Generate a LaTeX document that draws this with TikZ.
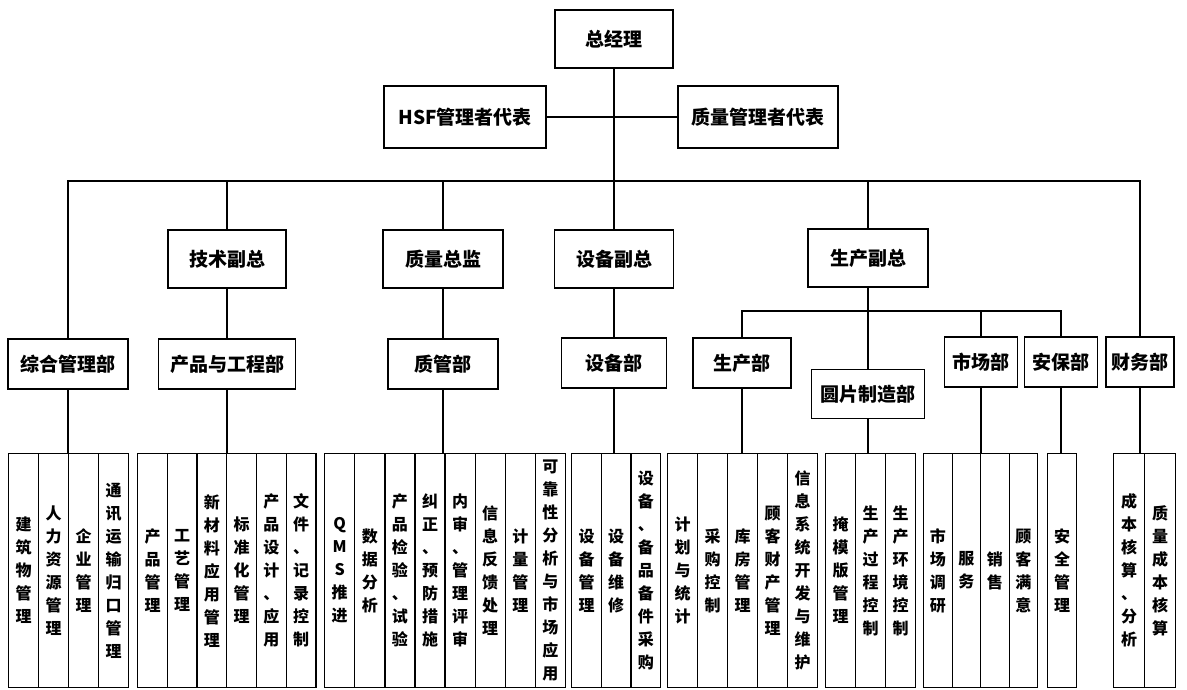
\documentclass[tikz,border=0pt]{standalone}
\usepackage{fontspec}
\setmainfont{Noto Sans CJK SC}
\begin{document}
\begin{tikzpicture}[x=1pt,y=-1pt,line width=1.3pt,
  box/.style={draw,inner sep=0pt,font=\fontsize{19}{22}\selectfont\bfseries},
  cell/.style={draw,anchor=north west,inner sep=0pt,minimum height=234pt,align=center,font=\fontsize{16}{23}\selectfont\bfseries}]
\path[fill=white,use as bounding box] (0,0) rectangle (1187,689);
% top
\node[box,minimum width=118pt,minimum height=58pt] (gm) at (614,39) {总经理};
\node[box,minimum width=162pt,minimum height=62pt] (hsf) at (465,117) {HSF管理者代表};
\node[box,minimum width=160pt,minimum height=62pt] (qrep) at (758,117) {质量管理者代表};
% level 2
\node[box,minimum width=118pt,minimum height=58pt] (jsfz) at (227,259) {技术副总};
\node[box,minimum width=120pt,minimum height=58pt] (zlzj) at (443,259) {质量总监};
\node[box,minimum width=119pt,minimum height=58pt] (sbfz) at (614,259) {设备副总};
\node[box,minimum width=120pt,minimum height=58pt] (scfz) at (868,258) {生产副总};
% level 3
\node[box,minimum width=120pt,minimum height=50pt] (zh) at (68,364) {综合管理部};
\node[box,minimum width=137pt,minimum height=50pt] (cp) at (227,364) {产品与工程部};
\node[box,minimum width=110pt,minimum height=50pt] (zg) at (443,364) {质管部};
\node[box,minimum width=105pt,minimum height=50pt] (sb) at (614,363) {设备部};
\node[box,minimum width=98pt,minimum height=50pt] (sc) at (742,363) {生产部};
\node[box,minimum width=113pt,minimum height=49pt] (yp) at (868,394) {圆片制造部};
\node[box,minimum width=73pt,minimum height=50pt] (sch) at (981,362) {市场部};
\node[box,minimum width=73pt,minimum height=50pt] (ab) at (1061,362) {安保部};
\node[box,minimum width=68pt,minimum height=50pt] (cw) at (1140,362) {财务部};
% connectors top
\coordinate (bus) at (0,181);
\coordinate (sub) at (0,311);
\draw (gm.south) -- (sbfz.north);
\draw (hsf.east) -- (qrep.west);
\draw (zh.north) -- (zh.north |- bus) -- (cw.north |- bus) -- (cw.north);
\draw (jsfz.north) -- (jsfz.north |- bus);
\draw (zlzj.north) -- (zlzj.north |- bus);
\draw (scfz.north) -- (scfz.north |- bus);
\draw (jsfz) -- (cp);
\draw (zlzj) -- (zg);
\draw (sbfz) -- (sb);
\draw (scfz.south) -- (yp.north);
\draw (sc.north) -- (sc.north |- sub) -- (ab.north |- sub) -- (ab.north);
\draw (sch.north) -- (sch.north |- sub);
% columns
\foreach \t [count=\i] in {{建\\筑\\物\\管\\理},{人\\力\\资\\源\\管\\理},{企\\业\\管\\理},{通\\讯\\运\\输\\归\\口\\管\\理}}
  \node[cell,minimum width=30pt] (ga-\i) at ({8+(\i-1)*30},453) {\t};
\foreach \t [count=\i] in {{产\\品\\管\\理},{工\\艺\\管\\理},{新\\材\\料\\应\\用\\管\\理},{标\\准\\化\\管\\理},{产\\品\\设\\计\\、\\应\\用},{文\\件\\、\\记\\录\\控\\制}}
  \node[cell,minimum width=29.7pt] (gb-\i) at ({137+(\i-1)*29.7},453) {\t};
\foreach \t [count=\i] in {{Q\\M\\S\\推\\进},{数\\据\\分\\析},{产\\品\\检\\验\\、\\试\\验},{纠\\正\\、\\预\\防\\措\\施},{内\\审\\、\\管\\理\\评\\审},{信\\息\\反\\馈\\处\\理},{计\\量\\管\\理},{可\\靠\\性\\分\\析\\与\\市\\场\\应\\用}}
  \node[cell,minimum width=30.1pt] (gc-\i) at ({324+(\i-1)*30.1},453) {\t};
\foreach \t [count=\i] in {{设\\备\\管\\理},{设\\备\\维\\修},{设\\备\\、\\备\\品\\备\\件\\采\\购}}
  \node[cell,minimum width=29.7pt] (gd-\i) at ({571+(\i-1)*29.7},453) {\t};
\foreach \t [count=\i] in {{计\\划\\与\\统\\计},{采\\购\\控\\制},{库\\房\\管\\理},{顾\\客\\财\\产\\管\\理},{信\\息\\系\\统\\开\\发\\与\\维\\护}}
  \node[cell,minimum width=30pt] (ge-\i) at ({667+(\i-1)*30},453) {\t};
\foreach \t [count=\i] in {{掩\\模\\版\\管\\理},{生\\产\\过\\程\\控\\制},{生\\产\\环\\境\\控\\制}}
  \node[cell,minimum width=30pt] (gf-\i) at ({825+(\i-1)*30},453) {\t};
\foreach \t [count=\i] in {{市\\场\\调\\研},{服\\务},{销\\售},{顾\\客\\满\\意}}
  \node[cell,minimum width=28.5pt] (gg-\i) at ({923+(\i-1)*28.5},453) {\t};
\node[cell,minimum width=29pt] (gh-1) at (1047,453) {安\\全\\管\\理};
\foreach \t [count=\i] in {{成\\本\\核\\算\\、\\分\\析},{质\\量\\成\\本\\核\\算}}
  \node[cell,minimum width=31pt] (gi-\i) at ({1113+(\i-1)*31},453) {\t};
% connectors down
\draw (zh.south) -- (zh.south |- ga-1.north);
\draw (cp.south) -- (cp.south |- gb-1.north);
\draw (zg.south) -- (zg.south |- gc-1.north);
\draw (sb.south) -- (sb.south |- gd-1.north);
\draw (sc.south) -- (sc.south |- ge-1.north);
\draw (yp.south) -- (yp.south |- gf-1.north);
\draw (sch.south) -- (sch.south |- gg-1.north);
\draw (ab.south) -- (ab.south |- gh-1.north);
\draw (cw.south) -- (cw.south |- gi-1.north);
\end{tikzpicture}
\end{document}
